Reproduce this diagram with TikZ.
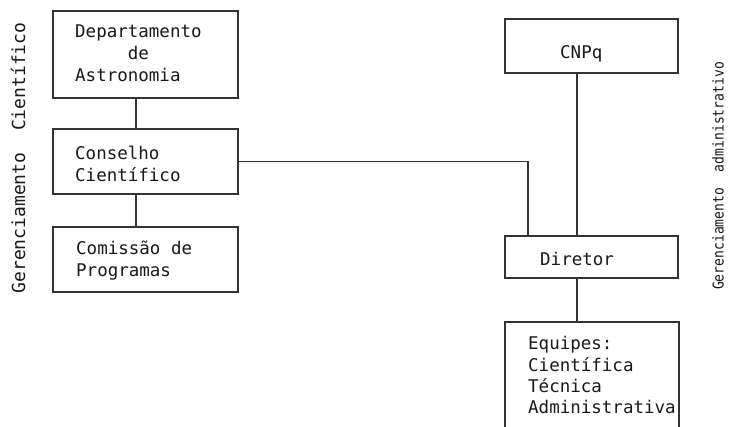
\documentclass[tikz,border=0pt]{standalone}
\usepackage{fontspec}
\usepackage{graphicx}
\setmonofont{DejaVu Sans Mono}
\begin{document}
\begin{tikzpicture}[x=1pt,y=-1pt,
  box/.style={draw=black!80, line width=1.5pt, inner sep=0pt},
  conn/.style={draw=black!80, line width=1.5pt},
  lbl/.style={inner sep=0pt, text=black!90, font=\ttfamily\fontsize{17.5pt}{22pt}\selectfont, align=left},
  side/.style={inner sep=0pt, text=black!90, rotate=90},
]
\useasboundingbox (0,0) rectangle (732,427);
\clip (0,0) rectangle (732,427);
\fill[white] (0,0) rectangle (732,427);

% boxes
\node[box, minimum width=185pt, minimum height=87pt] (dep) at (145.5,54.5) {};
\node[box, minimum width=185pt, minimum height=65pt] (cons) at (145.5,161.5) {};
\node[box, minimum width=185pt, minimum height=65pt] (com) at (145.5,259.5) {};
\node[box, minimum width=173pt, minimum height=54pt] (cnpq) at (591.5,46) {};
\node[box, minimum width=173pt, minimum height=42pt] (dir) at (591.5,257) {};
\node[box, minimum width=174pt, minimum height=118pt] (eq) at (592,381) {};

% texts
\node[lbl, anchor=north west] (tdep) at (75,24.5) {Departamento\\\phantom{xxxxx}de\\Astronomia};
\node[lbl, anchor=north west] (tcons) at (75,145.5) {Conselho\\Científico};
\node[lbl, anchor=north west] (tcom) at (76,240.5) {Comissão de\\Programas};
\node[lbl, anchor=base west] (tcnpq) at (560,59) {CNPq};
\node[lbl, anchor=base west] (tdir) at (540,266) {Diretor};
\node[lbl, anchor=north west, font=\ttfamily\fontsize{17.5pt}{21.3pt}\selectfont] (teq) at (528,336.5) {Equipes:\\Científica\\Técnica\\Administrativa};

% side labels
\node[side, font=\ttfamily\fontsize{18pt}{22pt}\selectfont] (gc) at (18,158) {Gerenciamento\ \ Científico};
\node[side, font=\ttfamily\fontsize{15pt}{18pt}\selectfont] (ga) at (718,176) {\scalebox{0.87}[1]{Gerenciamento\ \ administrativo}};

% connectors
\coordinate (lx) at (136,0);
\coordinate (jx) at (528,0);
\coordinate (rx) at (577,0);
\draw[conn] (lx |- dep.south) -- (lx |- cons.north);
\draw[conn] (lx |- cons.south) -- (lx |- com.north);
\draw[conn] (cons.east) -| (jx |- dir.north);
\draw[conn] (rx |- cnpq.south) -- (rx |- dir.north);
\draw[conn] (rx |- dir.south) -- (rx |- eq.north);
\end{tikzpicture}
\end{document}
